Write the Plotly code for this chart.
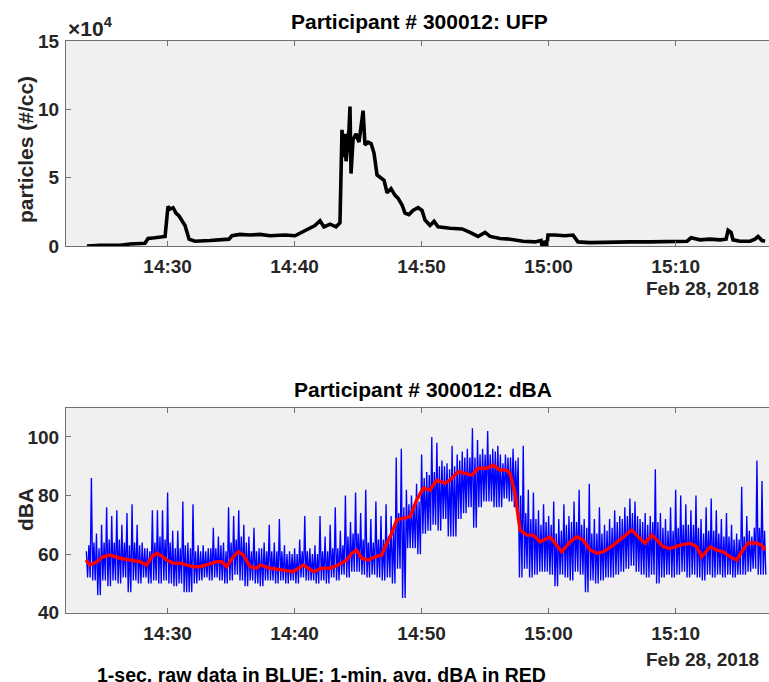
import pandas as pd
import plotly.graph_objects as go

# ---------------- data ----------------
BASE = pd.Timestamp("2018-02-28 14:00:00")

# UFP particle counts (minutes after 14:00, particles/cc in units of 1e4)
ufp_min = [23.65, 24.68, 26.25, 27.04, 28.22, 28.46, 29.0, 29.8, 30.03, 30.19, 30.43, 30.66,
           30.9, 31.13, 31.37, 31.69, 32.16, 33.34, 34.52, 34.83, 35.07, 35.7, 36.49, 37.28,
           38.06, 39.24, 40.03, 40.98, 41.6, 42.0, 42.31, 42.79, 43.26, 43.57, 43.73, 43.85,
           43.97, 44.05, 44.13, 44.28, 44.36, 44.44, 44.6, 44.84, 45.07, 45.23, 45.39, 45.54,
           45.78, 46.02, 46.25, 46.49, 46.8, 47.04, 47.28, 47.59, 47.91, 48.14, 48.46, 48.69,
           49.0, 49.32, 49.72, 50.03, 50.27, 50.66, 50.98, 51.29, 52.24, 53.18, 53.81, 54.44,
           54.99, 55.39, 56.17, 56.96, 57.98, 58.93, 59.4, 59.48, 59.64, 59.72, 59.87, 59.95,
           60.5, 61.29, 61.92, 62.31, 63.26, 64.83, 66.41, 67.98, 69.56, 70.9, 71.21, 71.92,
           72.71, 73.5, 73.97, 74.13, 74.36, 74.52, 75.07, 75.86, 76.25, 76.49, 76.8, 77.04]
ufp_val = [0.0, 0.05, 0.05, 0.15, 0.2, 0.55, 0.6, 0.7, 2.9, 2.7, 2.8, 2.4,
           2.2, 1.8, 1.5, 0.5, 0.35, 0.4, 0.45, 0.5, 0.75, 0.85, 0.8, 0.85,
           0.75, 0.8, 0.75, 1.2, 1.5, 1.85, 1.4, 1.6, 1.4, 1.7, 8.5, 6.5,
           8.2, 6.2, 7.0, 8.5, 10.2, 5.3, 7.8, 8.2, 7.6, 9.0, 9.9, 7.4,
           7.6, 7.5, 6.8, 5.2, 5.0, 4.8, 3.9, 4.2, 3.7, 3.5, 3.0, 2.4,
           2.3, 2.6, 2.8, 2.6, 1.9, 1.5, 1.8, 1.4, 1.3, 1.25, 1.0, 0.7,
           1.0, 0.7, 0.55, 0.5, 0.35, 0.3, 0.4, 0.0, 0.0, 0.4, 0.0, 0.8,
           0.8, 0.75, 0.8, 0.3, 0.25, 0.3, 0.3, 0.3, 0.35, 0.35, 0.6, 0.45,
           0.5, 0.45, 0.5, 1.15, 1.0, 0.45, 0.35, 0.35, 0.5, 0.7, 0.4, 0.35]

# 1-sec raw dBA, summarised every 24 s from 14:23:36 as: peak, low, upper edge of dense band, low
dba_start = "2018-02-28 14:23:36"
dba_hi = [61, 86, 67, 70, 76, 73, 75, 70, 74, 77, 70, 64, 62, 75, 75, 75, 81, 68, 68, 78,
          64, 77, 63, 63, 62, 69, 66, 64, 76, 73, 75, 70, 66, 69, 62, 64, 70, 64, 72, 63,
          61, 62, 65, 73, 62, 63, 73, 66, 70, 76, 68, 80, 71, 81, 74, 82, 72, 78, 73, 77,
          73, 93, 96, 82, 80, 84, 94, 88, 100, 98, 92, 91, 97, 94, 95, 96, 103, 99, 96, 102,
          96, 97, 91, 93, 96, 93, 97, 82, 81, 75, 77, 73, 78, 72, 77, 73, 78, 82, 72, 84,
          72, 76, 70, 72, 75, 73, 76, 79, 78, 72, 74, 73, 89, 74, 72, 76, 82, 80, 77, 75,
          80, 72, 76, 79, 75, 72, 74, 70, 67, 83, 73, 66, 92, 85]
dba_lo = [52, 51, 46, 51, 49, 51, 50, 52, 47, 51, 50, 52, 50, 51, 50, 51, 50, 49, 50, 47,
          47, 50, 51, 52, 51, 52, 51, 50, 51, 53, 51, 49, 51, 50, 49, 51, 51, 50, 51, 50,
          51, 50, 52, 51, 51, 50, 51, 50, 52, 51, 53, 52, 54, 54, 53, 52, 53, 52, 51, 52,
          50, 55, 45, 62, 62, 60, 67, 68, 70, 68, 72, 66, 66, 72, 74, 76, 69, 76, 78, 78,
          76, 76, 79, 78, 76, 52, 55, 52, 53, 54, 54, 53, 49, 53, 52, 51, 54, 53, 47, 51,
          50, 51, 52, 52, 53, 54, 55, 56, 54, 53, 52, 53, 50, 52, 53, 52, 53, 54, 52, 53,
          52, 51, 53, 52, 53, 52, 53, 52, 53, 53, 54, 55, 53, 53]
dba_core = [63, 64, 62, 64, 65, 64, 65, 64, 63, 64, 63, 62, 61, 64, 66, 65, 64, 62, 62, 63,
            62, 61, 61, 61, 62, 62, 63, 61, 64, 65, 66, 64, 61, 61, 62, 61, 61, 61, 61, 60,
            60, 60, 61, 61, 60, 60, 61, 61, 62, 62, 63, 66, 67, 67, 65, 64, 64, 65, 65, 66,
            68, 74, 76, 77, 77, 78, 86, 87, 88, 90, 90, 89, 90, 92, 93, 93, 93, 94, 94, 94,
            95, 94, 94, 93, 92, 80, 74, 72, 72, 70, 71, 70, 67, 68, 70, 71, 71, 70, 69, 67,
            67, 67, 68, 69, 71, 72, 73, 74, 73, 71, 70, 71, 71, 69, 68, 68, 69, 70, 70, 70,
            69, 67, 68, 68, 67, 66, 66, 65, 65, 66, 68, 69, 69, 68]

# 1-min average dBA (minutes after 14:00)
avg_min = [23.57, 23.89, 24.42, 24.91, 25.46, 25.86, 26.25, 27.04, 27.83, 28.35, 28.75, 29.14,
           29.54, 29.93, 30.45, 30.98, 31.5, 32.02, 32.55, 33.08, 33.87, 34.26, 34.65, 35.17,
           35.57, 35.96, 36.49, 37.02, 37.28, 38.06, 39.11, 39.9, 40.69, 41.47, 42.13, 42.79,
           43.44, 44.1, 44.5, 44.89, 45.28, 45.8, 46.33, 46.86, 47.12, 47.65, 48.04, 48.56,
           49.09, 49.61, 50.13, 50.66, 51.19, 51.84, 52.24, 52.89, 53.55, 53.95, 54.46, 55.13,
           55.65, 56.17, 56.7, 56.96, 57.35, 57.75, 58.28, 58.8, 59.32, 60.11, 61.03, 61.69,
           62.21, 62.73, 63.26, 63.79, 64.31, 65.09, 65.88, 66.54, 67.06, 67.59, 68.12, 68.51,
           69.03, 69.56, 70.35, 71.13, 71.66, 72.06, 72.71, 73.24, 73.76, 74.28, 74.81, 75.2,
           75.72, 76.38, 76.77, 77.04]
avg_val = [58.0, 56.3, 57.4, 59.1, 59.7, 59.1, 58.6, 58.0, 57.4, 56.3, 59.1, 60.3,
           59.4, 58.0, 56.9, 56.9, 56.3, 55.7, 55.7, 56.3, 57.4, 57.4, 55.7, 59.1,
           60.8, 59.7, 55.7, 55.2, 56.3, 55.2, 54.6, 54.0, 56.3, 54.0, 55.2, 55.2,
           56.3, 58.0, 60.3, 61.4, 58.6, 58.0, 59.1, 59.7, 62.5, 67.1, 71.7, 72.2,
           72.8, 78.5, 82.5, 81.9, 85.3, 84.2, 85.3, 88.2, 87.6, 87.0, 89.3, 89.3,
           90.4, 88.7, 88.7, 87.6, 80.8, 68.2, 66.5, 66.5, 64.2, 65.9, 60.8, 64.2,
           65.9, 64.8, 61.4, 60.3, 60.8, 63.1, 65.9, 68.2, 65.9, 63.7, 66.5, 64.8,
           62.5, 61.9, 63.1, 63.7, 62.5, 59.1, 62.5, 61.4, 60.8, 59.1, 58.0, 60.8,
           63.9, 63.7, 63.1, 61.4]

x_ticks = ["14:30", "14:40", "14:50", "15:00", "15:10"]
ufp_ticks = [0, 5, 10, 15]
dba_ticks = [40, 60, 80, 100]

# ---------------- build ----------------
def tmin(m):
    return BASE + pd.to_timedelta(pd.Series(m), unit="min")

t0 = pd.Timestamp(dba_start)
raw_t, raw_v = [], []
for k, (h, l, c) in enumerate(zip(dba_hi, dba_lo, dba_core)):
    for off, v in ((0, h), (6, l), (12, c), (18, l)):
        raw_t.append(t0 + pd.Timedelta(seconds=24 * k + off))
        raw_v.append(v)

FONT = "Liberation Sans"
TXT = "#262626"
AX = "#707070"
W, H = 769, 682
ML = 66
PW = W - ML

def px(x):
    return (x - ML) / PW

def py(y):
    return 1 - y / H

xrange_ = ["2018-02-28 14:22:00", "2018-02-28 15:17:21"]
tickvals = ["2018-02-28 " + s for s in x_ticks]

fig = go.Figure()
fig.add_trace(go.Scatter(x=tmin(ufp_min), y=[v * 1e4 for v in ufp_val], mode="lines",
                         line=dict(color="black", width=3.6), xaxis="x", yaxis="y",
                         showlegend=False, hoverinfo="skip"))
fig.add_trace(go.Scatter(x=raw_t, y=raw_v, mode="lines",
                         line=dict(color="#0000ff", width=1.35), xaxis="x2", yaxis="y2",
                         showlegend=False, hoverinfo="skip"))
fig.add_trace(go.Scatter(x=tmin(avg_min), y=avg_val, mode="lines",
                         line=dict(color="#ff0000", width=3.4), xaxis="x2", yaxis="y2",
                         showlegend=False, hoverinfo="skip"))

tickfont = dict(family=FONT, size=19, color=TXT, weight="bold")
xcommon = dict(type="date", range=xrange_, tickvals=tickvals, ticktext=x_ticks,
               ticks="inside", ticklen=5, tickcolor=AX, showline=True, linecolor=AX,
               linewidth=1, mirror="ticks", showgrid=False, zeroline=False,
               tickfont=tickfont, ticklabelstandoff=3, automargin=False)
ycommon = dict(ticks="inside", ticklen=5, tickcolor=AX, showline=True, linecolor=AX,
               linewidth=1, mirror=False, showgrid=False, zeroline=False,
               tickfont=tickfont, ticklabelstandoff=2, automargin=False)

fig.update_layout(
    width=W, height=H, autosize=False,
    margin=dict(l=ML, r=0, t=0, b=0, pad=0),
    paper_bgcolor="white", plot_bgcolor="#f0f0f0",
    showlegend=False,
    xaxis=dict(domain=[0, 1], anchor="y", **xcommon),
    yaxis=dict(domain=[py(246), py(41)], anchor="x", range=[0, 15e4],
               tickvals=[v * 1e4 for v in ufp_ticks], ticktext=[str(v) for v in ufp_ticks],
               **ycommon),
    xaxis2=dict(domain=[0, 1], anchor="y2", **xcommon),
    yaxis2=dict(domain=[py(612.7), py(407.7)], anchor="x2", range=[40, 110],
                tickvals=dba_ticks, ticktext=[str(v) for v in dba_ticks], **ycommon),
)

def ann(text, x, y, size, xanchor="center", yanchor="middle", angle=0, color=TXT):
    fig.add_annotation(text=text, xref="paper", yref="paper", x=px(x), y=py(y),
                       xanchor=xanchor, yanchor=yanchor, showarrow=False, textangle=angle,
                       font=dict(family=FONT, size=size, color=color, weight="bold"))

ann("Participant # 300012: UFP", 419, 22, 21, color="black")
ann("Participant # 300012: dBA", 423, 389, 21, color="black")
ann("particles (#/cc)", 25, 150, 21, angle=-90)
ann("dBA", 25, 510, 21, angle=-90)
ann("×10<sup>4</sup>", 66, 27, 21, xanchor="left")
ann("Feb 28, 2018", 761, 288, 19, xanchor="right")
ann("Feb 28, 2018", 761, 659, 19, xanchor="right")
ann("1-sec, raw data in BLUE; 1-min. avg. dBA in RED", 95, 675, 19.5, xanchor="left",
    color="black")

fig.write_html("out.html")
